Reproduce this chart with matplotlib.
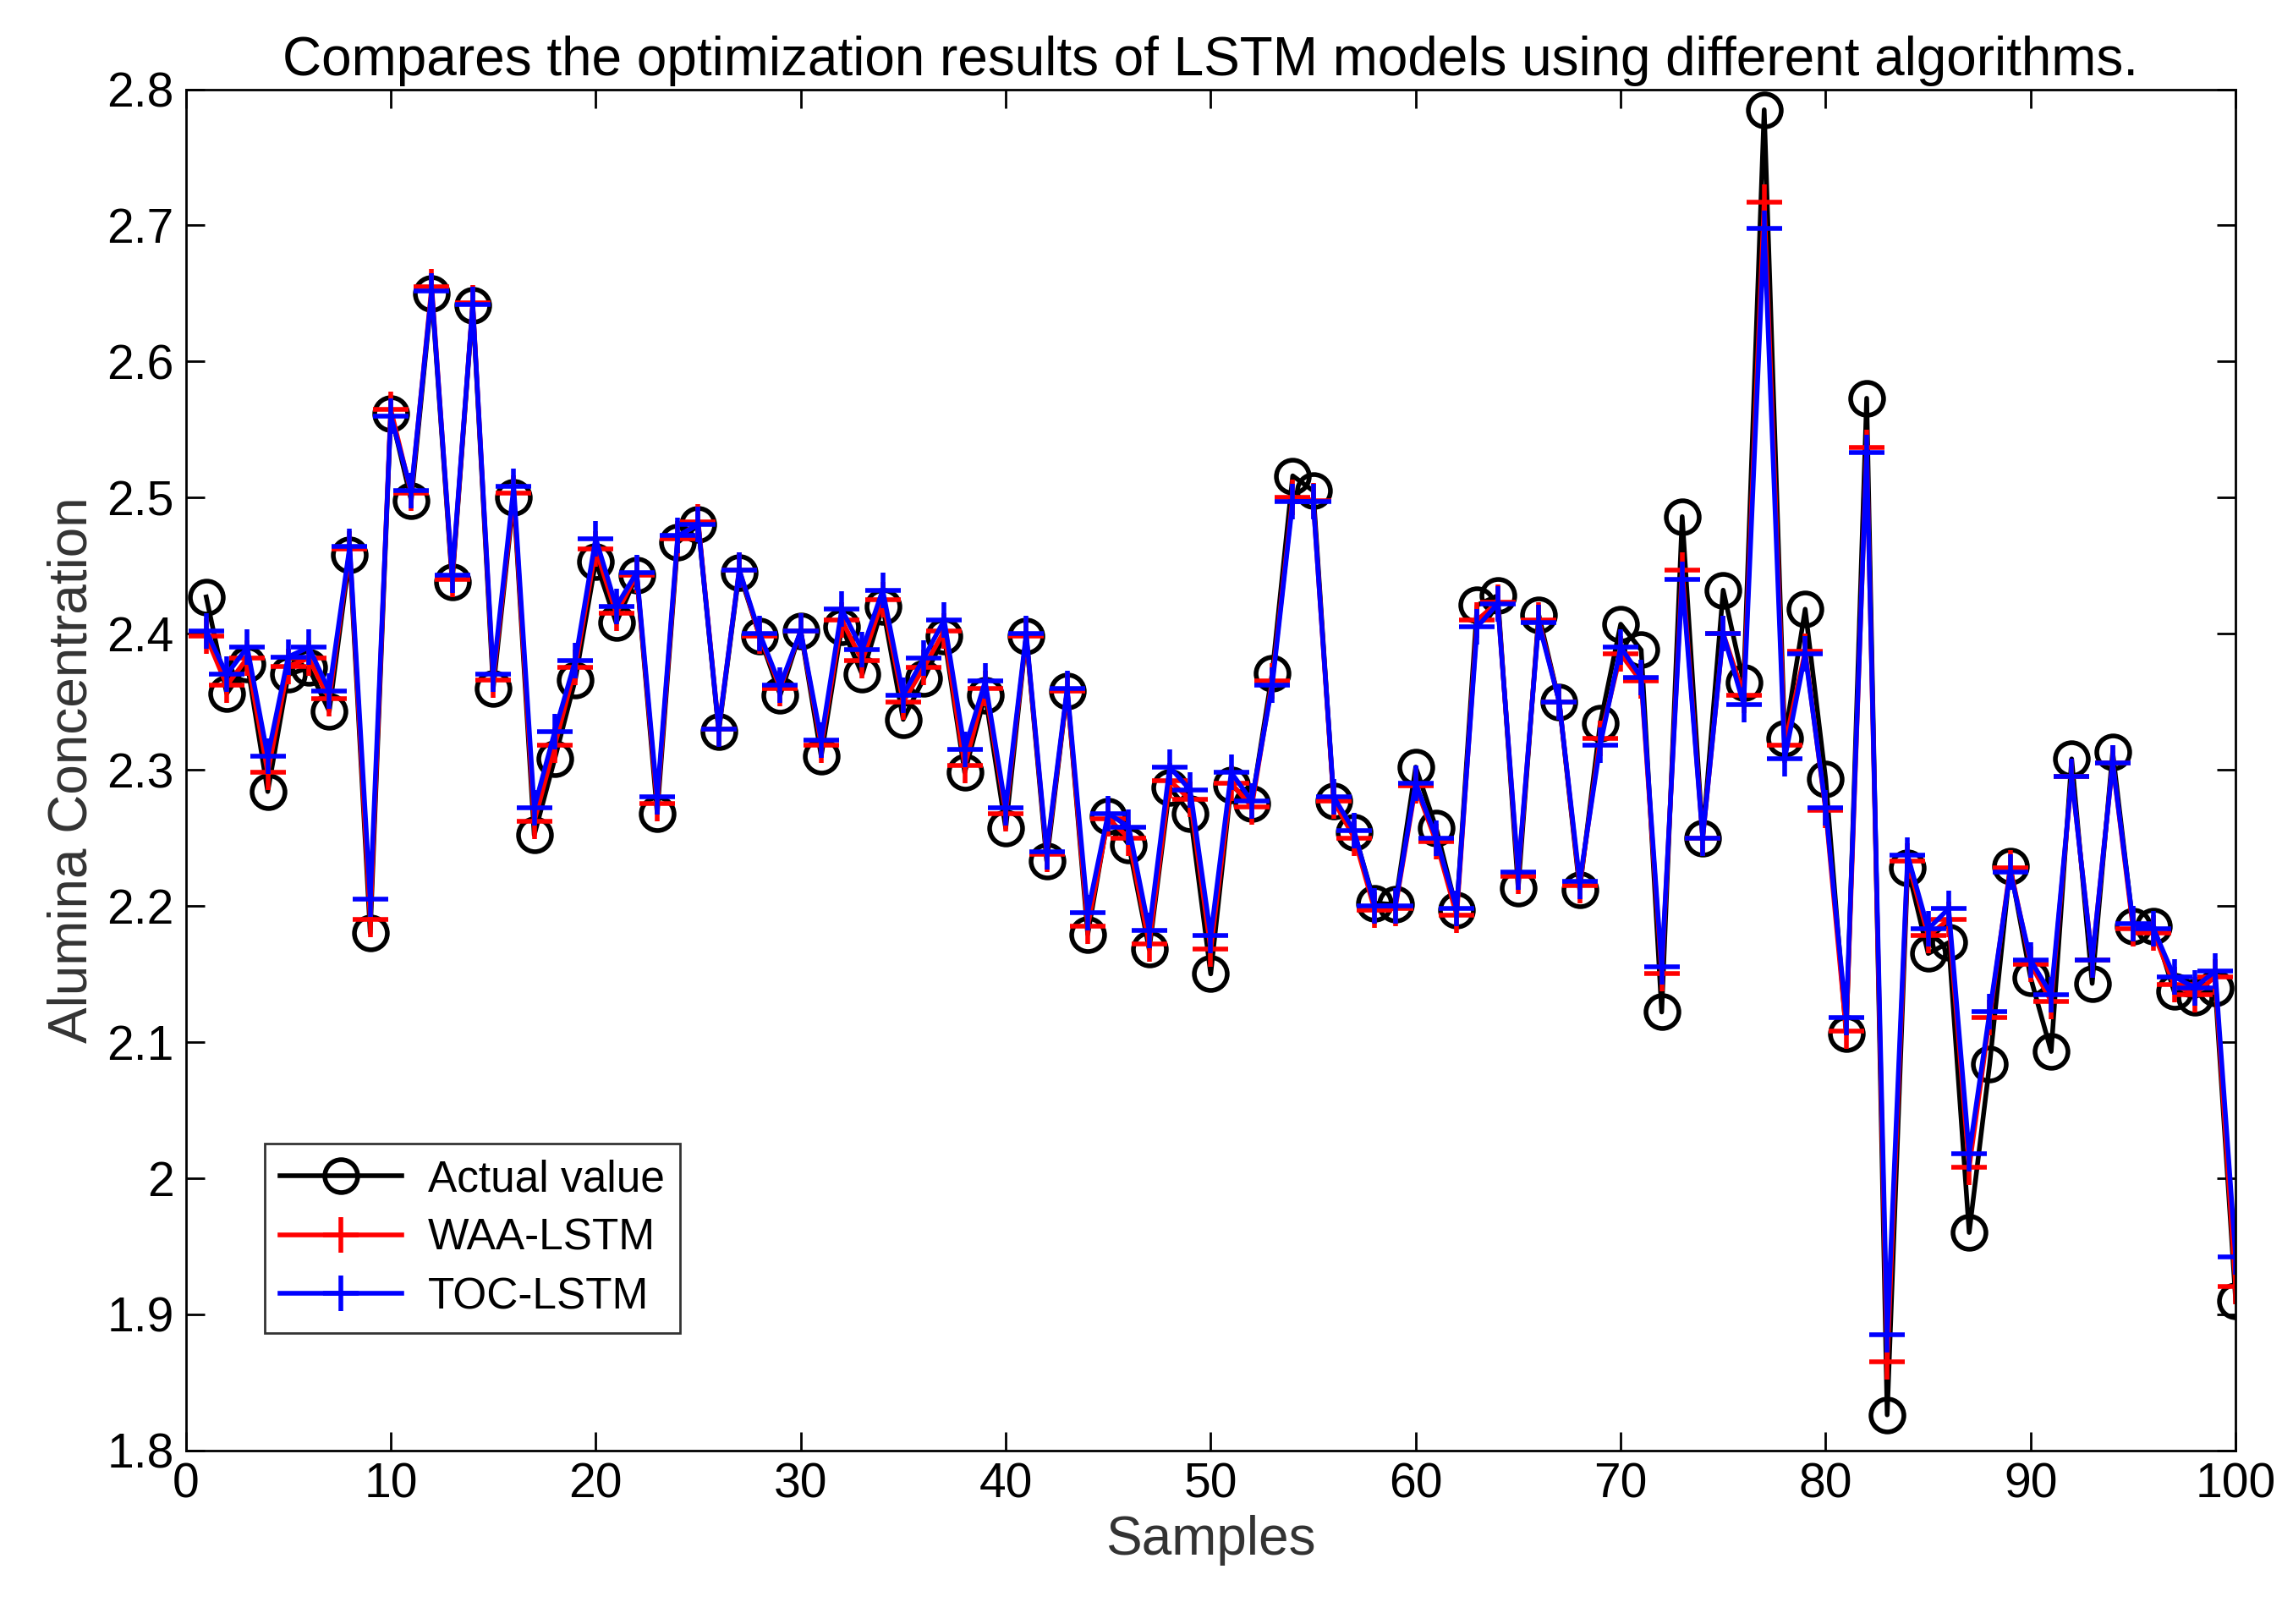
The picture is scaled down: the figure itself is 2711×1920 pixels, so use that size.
import matplotlib
matplotlib.use("Agg")
import matplotlib.pyplot as plt
import numpy as np

samples = list(range(1, 101))
actual = [2.427,2.356,2.378,2.284,2.370,2.375,2.343,2.458,2.180,2.562,
          2.498,2.650,2.438,2.641,2.360,2.500,2.252,2.308,2.366,2.453,
          2.408,2.443,2.268,2.467,2.480,2.328,2.445,2.398,2.355,2.402,
          2.310,2.405,2.370,2.420,2.337,2.367,2.398,2.298,2.355,2.257,
          2.398,2.233,2.358,2.179,2.266,2.245,2.168,2.287,2.268,2.150,
          2.289,2.275,2.371,2.516,2.505,2.277,2.254,2.202,2.201,2.302,
          2.257,2.197,2.421,2.428,2.213,2.414,2.350,2.212,2.334,2.407,
          2.388,2.122,2.486,2.250,2.432,2.364,2.785,2.323,2.418,2.293,
          2.106,2.573,1.826,2.228,2.165,2.173,1.960,2.084,2.229,2.147,
          2.093,2.308,2.143,2.313,2.185,2.185,2.137,2.133,2.140,1.910]
waa = [2.398,2.362,2.382,2.298,2.376,2.382,2.352,2.462,2.190,2.565,
       2.503,2.655,2.440,2.643,2.366,2.503,2.262,2.318,2.375,2.462,
       2.415,2.443,2.275,2.470,2.482,2.330,2.447,2.398,2.360,2.402,
       2.318,2.410,2.380,2.425,2.350,2.375,2.402,2.303,2.360,2.268,
       2.398,2.238,2.358,2.185,2.264,2.250,2.172,2.292,2.278,2.168,
       2.290,2.273,2.365,2.500,2.498,2.277,2.250,2.197,2.198,2.288,
       2.247,2.193,2.410,2.423,2.222,2.410,2.350,2.215,2.323,2.385,
       2.365,2.150,2.447,2.250,2.400,2.355,2.717,2.318,2.387,2.270,
       2.108,2.537,1.865,2.233,2.178,2.190,2.008,2.118,2.228,2.157,
       2.130,2.295,2.160,2.305,2.183,2.180,2.142,2.135,2.148,1.920]
toc = [2.402,2.370,2.390,2.310,2.383,2.390,2.358,2.464,2.205,2.560,
       2.505,2.652,2.443,2.642,2.370,2.508,2.272,2.328,2.380,2.470,
       2.420,2.445,2.280,2.472,2.480,2.330,2.447,2.400,2.362,2.402,
       2.322,2.418,2.388,2.432,2.355,2.382,2.410,2.315,2.365,2.272,
       2.400,2.240,2.360,2.195,2.268,2.258,2.182,2.302,2.285,2.178,
       2.298,2.277,2.362,2.497,2.497,2.280,2.255,2.200,2.200,2.290,
       2.250,2.198,2.405,2.422,2.225,2.408,2.350,2.218,2.318,2.390,
       2.368,2.155,2.440,2.250,2.400,2.348,2.698,2.308,2.385,2.272,
       2.118,2.533,1.885,2.237,2.183,2.198,2.018,2.122,2.225,2.160,
       2.135,2.295,2.160,2.305,2.187,2.183,2.148,2.140,2.152,1.942]

plt.rcParams["font.family"] = ["Liberation Sans", "DejaVu Sans"]
fig = plt.figure(figsize=(27.11, 19.20), dpi=100)
ax = fig.add_axes([0.081, 0.107, 0.894, 0.838])

ax.plot(samples, actual, color="black", marker="o", markersize=28,
        markerfacecolor="none", markeredgewidth=4, linewidth=4, label="Actual value")
ax.plot(samples, waa, color="red", marker="+", markersize=30,
        markeredgewidth=4, linewidth=4, label="WAA-LSTM")
ax.plot(samples, toc, color="blue", marker="+", markersize=30,
        markeredgewidth=4, linewidth=4, label="TOC-LSTM")

ax.set_xlim(0, 100)
ax.set_ylim(1.8, 2.8)
ax.set_xticks(np.arange(0, 101, 10))
ax.set_yticks(np.arange(1.8, 2.81, 0.1))
ax.set_yticklabels(["1.8", "1.9", "2", "2.1", "2.2", "2.3", "2.4", "2.5", "2.6", "2.7", "2.8"])
ax.tick_params(direction="in", length=16, width=2, labelsize=41, top=True, right=True, pad=10)
for s in ax.spines.values():
    s.set_linewidth(2)
ax.set_xlabel("Samples", fontsize=46, color="#333333", labelpad=6)
ax.set_ylabel("Alumina Concentration", fontsize=46, color="#333333", labelpad=8)
ax.set_title("Compares the optimization results of LSTM models using different algorithms.",
             fontsize=46, pad=12)
leg = ax.legend(loc="lower left", bbox_to_anchor=(0.028, 0.07), fontsize=37,
                fancybox=False, edgecolor="black", handlelength=2.8, borderpad=0.35,
                labelspacing=0.4, handletextpad=0.6)
leg.get_frame().set_linewidth(2)
fig.savefig("out.png", dpi=100)
